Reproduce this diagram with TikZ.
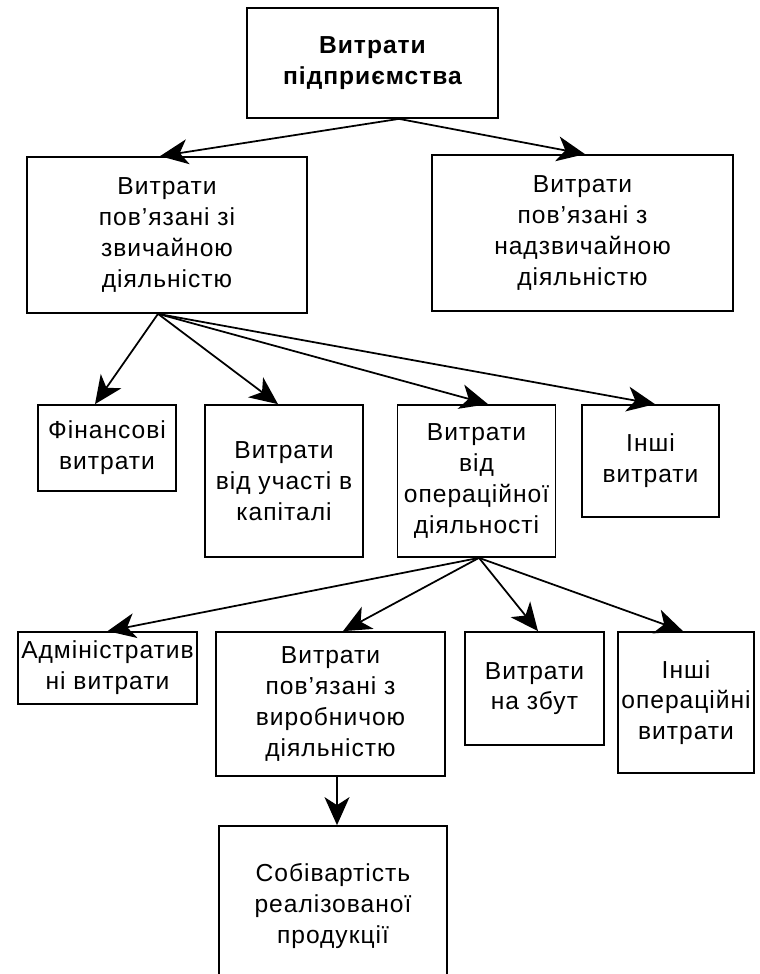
\documentclass[tikz,border=0pt]{standalone}
\usepackage{fontspec}
\setmainfont{Liberation Sans}[LetterSpace=4]
\usetikzlibrary{arrows.meta}

\begin{document}
\begin{tikzpicture}[x=0.02cm, y=-0.02cm, line width=1pt,
    box/.style={draw, align=center, inner sep=2pt, font=\fontsize{14}{17.5}\selectfont},
    arr/.style={-{Stealth[length=0.56cm, width=0.5cm, inset=0.16cm]}}]
    \useasboundingbox (0,0) rectangle (760,974);

    \node[box, minimum width=5.02cm, minimum height=2.2cm, font=\fontsize{14}{17.5}\selectfont\bfseries] (T) at (372.5,63) {Витрати\\підприємства};
    \node[box, minimum width=5.6cm, minimum height=3.12cm]  (O) at (167,235) {Витрати\\пов’язані зі\\звичайною\\діяльністю};
    \node[box, minimum width=6.02cm, minimum height=3.12cm] (E) at (582.5,233) {Витрати\\пов’язані з\\надзвичайною\\діяльністю};

    \node[box, minimum width=2.76cm, minimum height=1.72cm] (F)  at (107,448) {Фінансові\\витрати};
    \node[box, minimum width=3.16cm, minimum height=3.04cm] (K)  at (284,481) {Витрати\\від участі в\\капіталі};
    \node[box, minimum width=3.16cm, minimum height=3.04cm] (OP) at (476.5,481) {Витрати\\від\\операційної\\діяльності};
    \node[box, minimum width=2.74cm, minimum height=2.24cm] (IN) at (650.5,461) {Інші\\витрати};

    \node[box, minimum width=3.54cm, minimum height=1.44cm] (A)  at (107.5,668) {Адміністратив\\ні витрати};
    \node[box, minimum width=4.58cm, minimum height=2.88cm] (V)  at (330.5,704) {Витрати\\пов’язані з\\виробничою\\діяльністю};
    \node[box, minimum width=2.78cm, minimum height=2.26cm] (Z)  at (534.5,688.5) {Витрати\\на збут};
    \node[box, minimum width=2.68cm, minimum height=2.82cm] (IO) at (686,702.5) {Інші\\операційні\\витрати};

    \node[box, minimum width=4.56cm, minimum height=3.2cm] (S) at (333,906) {Собівартість\\реалізованої\\продукції};

    \coordinate (T0) at ([xshift=0.53cm]T.south);
    \draw[arr] (T0) -- ([xshift=-0.14cm]O.north);
    \draw[arr] (T0) -- ([xshift=0.05cm]E.north);

    \coordinate (O0) at ([xshift=-0.18cm]O.south);
    \draw[arr] (O0) -- ([xshift=-0.24cm]F.north);
    \draw[arr] (O0) -- ([xshift=-0.12cm]K.north);
    \draw[arr] (O0) -- ([xshift=0.23cm]OP.north);
    \draw[arr] (O0) -- ([xshift=0.09cm]IN.north);

    \coordinate (P0) at ([xshift=0.05cm]OP.south);
    \draw[arr] (P0) -- (A.north);
    \draw[arr] (P0) -- ([xshift=0.25cm]V.north);
    \draw[arr] (P0) -- ([xshift=0.07cm]Z.north);
    \draw[arr] (P0) -- ([xshift=-0.06cm]IO.north);

    \draw[arr] ([xshift=0.13cm]V.south) -- ([xshift=0.08cm]S.north);
\end{tikzpicture}
\end{document}
